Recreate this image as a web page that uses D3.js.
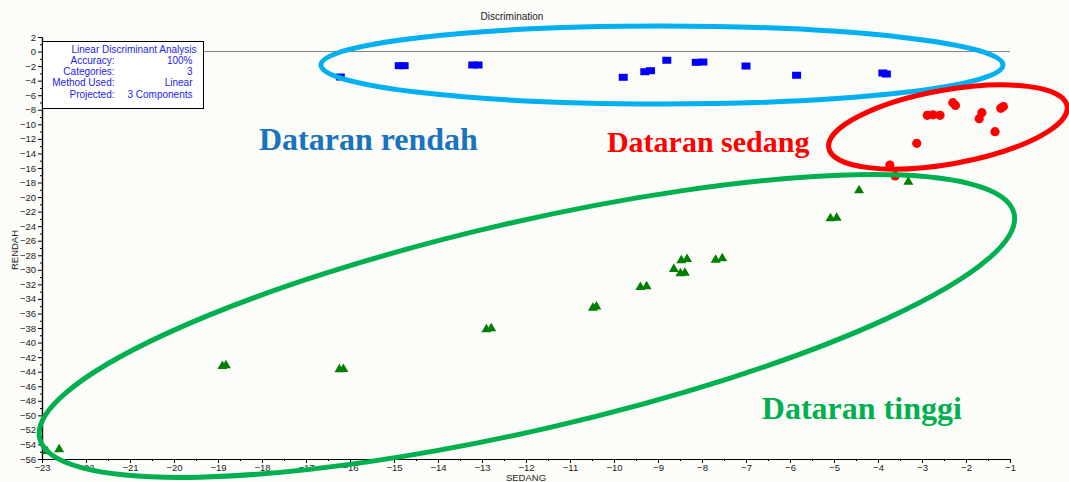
<!DOCTYPE html>
<html>
<head>
<meta charset="utf-8">
<script src="https://cdn.jsdelivr.net/npm/d3@7"></script>
<style>
  body { margin: 0; background: #fcfcf8; }
  text { font-family: Arial, "Liberation Sans", sans-serif; }
  .axis text { font-size: 9.5px; fill: #222; }
  .axis path, .axis line { stroke: #000; }
</style>
</head>
<body>
<div id="chart"></div>
<script>
// group "Rendah" (blue squares)
var rendahX = [-16.22, -14.88, -14.77, -13.21, -13.09, -9.79, -9.30, -9.17, -8.80, -8.13, -7.98, -7.00, -5.85, -3.89, -3.81];
var rendahY = [-3.50, -1.94, -1.94, -1.85, -1.85, -3.54, -2.77, -2.63, -1.20, -1.48, -1.44, -1.99, -3.26, -2.95, -3.09];

// group "Sedang" (red dots)
var sedangX = [-2.30, -2.24, -2.88, -2.75, -2.59, -1.64, -1.70, -1.21, -1.15, -1.34, -3.12, -3.73, -3.61];
var sedangY = [-7.03, -7.40, -8.76, -8.70, -8.76, -8.40, -9.23, -7.80, -7.55, -11.01, -12.61, -15.59, -17.10];

// group "Tinggi" (green triangles)
var tinggiX = [-22.89, -22.61, -18.90, -18.82, -16.24, -16.15, -12.90, -12.79, -10.48, -10.40, -9.40, -9.26,
               -8.64, -8.49, -8.39, -8.47, -8.34, -7.69, -7.54, -5.08, -4.94, -4.43, -3.31];
var tinggiY = [-54.76, -54.53, -43.08, -42.98, -43.53, -43.49, -38.04, -37.90, -35.07, -34.90, -32.22, -32.13,
               -29.75, -30.34, -30.26, -28.55, -28.37, -28.47, -28.28, -22.78, -22.70, -18.93, -17.75];

var xTicks = d3.range(-23, 0, 1);
var yTicks = d3.range(-56, 3, 2);

var legendLabels = ["Accuracy:", "Categories:", "Method Used:", "Projected:"];
var legendValues = ["100%", "3", "Linear", "3 Components"];

var groupLabels = ["Dataran rendah", "Dataran sedang", "Dataran tinggi"];
var groupLabelX = [-18.07, -10.16, -6.64];
var groupLabelY = [-13.53, -13.81, -50.45];
var groupColors = ["#1a73bd", "#ff0000", "#00b050"];
var groupSizes = [32, 30, 32];

var margin = {top: 37, right: 59, bottom: 23, left: 42},
    totalWidth = 1069,
    totalHeight = 482,
    width = totalWidth - margin.left - margin.right,
    height = totalHeight - margin.top - margin.bottom;

var svg = d3.select("#chart")
    .append("svg")
    .attr("width", totalWidth)
    .attr("height", totalHeight);

var chartgroup = svg.append("g")
    .attr("transform", "translate(" + margin.left + "," + margin.top + ")");

var x = d3.scaleLinear().domain([-23, -1]).range([0, width]);
var y = d3.scaleLinear().domain([2, -56]).range([0, height]);

// zero reference line
chartgroup.append("line")
    .attr("x1", 0).attr("x2", width)
    .attr("y1", y(0)).attr("y2", y(0))
    .style("stroke", "#808080");

// minor ticks
chartgroup.append("g")
    .attr("transform", "translate(0," + height + ")")
    .classed("axis", true)
    .call(d3.axisBottom(x).tickValues(d3.range(-22.5, -1, 1)).tickSize(2).tickSizeOuter(0).tickFormat(""));
chartgroup.append("g")
    .classed("axis", true)
    .call(d3.axisLeft(y).tickValues(d3.range(-55, 2, 2)).tickSize(2).tickSizeOuter(0).tickFormat(""));

chartgroup.append("g")
    .attr("transform", "translate(0," + height + ")")
    .classed("axis", true)
    .call(d3.axisBottom(x).tickValues(xTicks).tickSize(4).tickSizeOuter(0).tickPadding(1));

chartgroup.append("g")
    .classed("axis", true)
    .call(d3.axisLeft(y).tickValues(yTicks).tickSize(4).tickSizeOuter(0).tickPadding(2));

svg.selectAll(".axis .domain").style("stroke-width", 1.2);

// titles
svg.append("text")
    .attr("x", 512).attr("y", 20)
    .attr("text-anchor", "middle")
    .style("font-size", "10px").style("fill", "#222")
    .text("Discrimination");
svg.append("text")
    .attr("x", margin.left + width / 2).attr("y", 481)
    .attr("text-anchor", "middle")
    .style("font-size", "9.5px").style("fill", "#222")
    .text("SEDANG");
svg.append("text")
    .attr("transform", "translate(18," + (margin.top + 213) + ") rotate(-90)")
    .attr("text-anchor", "middle")
    .style("font-size", "9.5px").style("fill", "#222")
    .text("RENDAH");

// legend box
var legend = chartgroup.append("g").attr("transform", "translate(0.5," + (4.5) + ")");
legend.append("rect")
    .attr("width", 161).attr("height", 67)
    .style("fill", "#fff").style("stroke", "#000");
legend.append("text")
    .attr("x", 154).attr("y", 11)
    .attr("text-anchor", "end")
    .style("font-size", "10px").style("fill", "#2222ee")
    .text("Linear Discriminant Analysis");
legend.selectAll("lbl")
    .data(legendLabels)
    .enter()
    .append("text")
    .attr("x", 72)
    .attr("y", (d, i) => 22.5 + i * 11.2)
    .attr("text-anchor", "end")
    .style("font-size", "10px").style("fill", "#2222ee")
    .text(d => d);
legend.selectAll("val")
    .data(legendValues)
    .enter()
    .append("text")
    .attr("x", 150)
    .attr("y", (d, i) => 22.5 + i * 11.2)
    .attr("text-anchor", "end")
    .style("font-size", "10px").style("fill", "#2222ee")
    .text(d => d);

// points
chartgroup.append("g")
    .selectAll("rect")
    .data(rendahX)
    .enter()
    .append("rect")
    .attr("x", (d, i) => x(d) - 4.5)
    .attr("y", (d, i) => y(rendahY[i]) - 3.5)
    .attr("width", 9)
    .attr("height", 7)
    .style("fill", "#0000ff");

chartgroup.append("g")
    .selectAll("circle")
    .data(sedangX)
    .enter()
    .append("circle")
    .attr("cx", d => x(d))
    .attr("cy", (d, i) => y(sedangY[i]))
    .attr("r", 4.6)
    .style("fill", "#ff0000");

chartgroup.append("g")
    .selectAll("path")
    .data(tinggiX)
    .enter()
    .append("path")
    .attr("d", "M0,-4.5L5,4L-5,4Z")
    .attr("transform", (d, i) => "translate(" + x(d) + "," + y(tinggiY[i]) + ")")
    .style("fill", "#008000");

// hand drawn group ellipses
var ellCx = [-8.91, -2.41, -11.98];
var ellCy = [-1.85, -10.37, -37.72];
var ellRx = [341, 121, 500];
var ellRy = [39, 37, 104];
var ellRot = [0, -10, -13];
var ellColors = ["#00b0f0", "#ff0000", "#00b050"];

chartgroup.append("g")
    .selectAll("ellipse")
    .data(ellCx)
    .enter()
    .append("ellipse")
    .attr("transform", (d, i) => "translate(" + x(d) + "," + y(ellCy[i]) + ") rotate(" + ellRot[i] + ")")
    .attr("rx", (d, i) => ellRx[i])
    .attr("ry", (d, i) => ellRy[i])
    .style("fill", "none")
    .style("stroke", (d, i) => ellColors[i])
    .style("stroke-width", 5);

chartgroup.selectAll("grp")
    .data(groupLabels)
    .enter()
    .append("text")
    .attr("x", (d, i) => x(groupLabelX[i]))
    .attr("y", (d, i) => y(groupLabelY[i]))
    .style("font-family", "'Liberation Serif', 'Times New Roman', serif")
    .style("font-weight", "bold")
    .style("font-size", (d, i) => groupSizes[i] + "px")
    .style("fill", (d, i) => groupColors[i])
    .text(d => d);
</script>
</body>
</html>
